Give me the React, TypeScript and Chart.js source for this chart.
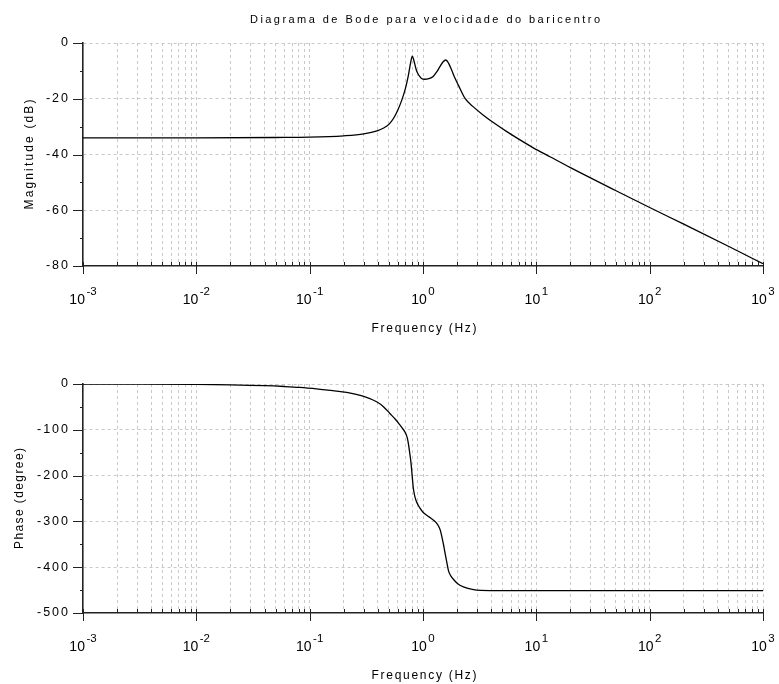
import React, { useEffect, useRef } from 'react';
import { Chart, registerables } from 'chart.js';

Chart.register(...registerables);

// ---- text ----
const chartTitle = 'Diagrama de Bode para velocidade do baricentro';
const xAxisTitle = 'Frequency (Hz)';
const magAxisTitle = 'Magnitude (dB)';
const phaseAxisTitle = 'Phase (degree)';

// ---- axes ----
const decadeExponents = [-3, -2, -1, 0, 1, 2, 3];
const minorMantissas = [2, 3, 4, 5, 6, 7, 8, 9];
const magRange = [-80, 0];
const magStep = 20;
const magMinorStep = 10;
const phaseRange = [-500, 0];
const phaseStep = 100;
const phaseMinorStep = 50;

// ---- data: magnitude ----
const magFreq = [
  0.001, 0.01, 0.05, 0.1, 0.2, 0.3, 0.4, 0.45, 0.5, 0.55, 0.6, 0.65, 0.7, 0.74, 0.78,
  0.805, 0.83, 0.87, 0.91, 0.97, 1.04, 1.12, 1.23, 1.33, 1.41, 1.5, 1.59, 1.68, 1.79,
  1.9, 2.05, 2.35, 2.8, 3.41, 4.3, 5.49, 7, 9.4, 13.2, 20, 50, 100, 200, 500, 1000,
];
const magDb = [
  -34, -34, -33.9, -33.8, -33.3, -32.6, -31.4, -30.5, -29.2, -27, -24, -20.5, -16.3, -12, -6.8,
  -4.7, -6.2, -9.5, -11.3, -12.7, -13, -12.8, -12, -10.2, -8.5, -6.8, -6.1, -7.2, -9.7,
  -12.3, -15.1, -19.9, -23.0, -25.9, -28.9, -31.8, -34.5, -37.6, -40.8, -44.7, -52.9, -59, -65, -73, -79.2,
];

// ---- data: phase ----
const phaseFreq = [
  0.001, 0.003, 0.01, 0.02, 0.04, 0.06, 0.082, 0.124, 0.16, 0.212, 0.3, 0.39, 0.45, 0.51,
  0.57, 0.628, 0.67, 0.69, 0.71, 0.73, 0.745, 0.76, 0.78, 0.795, 0.81, 0.82, 0.835, 0.85,
  0.87, 0.9, 0.94, 1.0, 1.1, 1.19, 1.3, 1.37, 1.42, 1.46, 1.52, 1.57, 1.63, 1.68, 1.76, 1.85,
  2.0, 2.27, 2.79, 3.91, 10, 100, 1000,
];
const phaseDeg = [
  -0.1, -0.3, -0.9, -1.8, -3.6, -5.5, -7.5, -11.6, -14.5, -18.2, -27, -38.8, -50, -64.3,
  -77, -90, -99, -104, -110, -120, -132, -147, -168, -189, -212, -226, -238, -247,
  -255, -263, -271, -280, -288, -294, -302, -310, -319, -331, -352, -371, -392, -408, -419, -426,
  -435, -443, -449, -451, -451, -451, -451,
];

const FONT = '"Liberation Sans", Arial, sans-serif';
const GRID = '#c9c9c9';
const AXIS = '#222';
const TEXT = '#000';

const xTickValues: number[] = [];
decadeExponents.forEach((e) => {
  xTickValues.push(10 ** e);
  if (e < decadeExponents[decadeExponents.length - 1]) {
    minorMantissas.forEach((m) => xTickValues.push(Number((m * 10 ** e).toPrecision(3))));
  }
});

function drawSpaced(ctx: CanvasRenderingContext2D, text: string, x: number, y: number, font: string, width: number) {
  ctx.font = font;
  (ctx as any).letterSpacing = '0px';
  const w = ctx.measureText(text).width;
  const sp = (width - w) / (text.length - 1);
  (ctx as any).letterSpacing = sp + 'px';
  ctx.textAlign = 'left';
  ctx.fillText(text, x - width / 2, y);
  (ctx as any).letterSpacing = '0px';
}

type DecorOpts = {
  title?: string;
  yTitle: string;
  yTitleX: number;
  yTitleWidth: number;
  yMinorStep: number;
};

function makeDecor(o: DecorOpts) {
  return {
    id: 'decor',
    beforeDraw(chart: any) {
      const ctx = chart.ctx as CanvasRenderingContext2D;
      ctx.fillStyle = '#fff';
      ctx.fillRect(0, 0, chart.width, chart.height);
      (ctx as any).letterSpacing = '2px';
    },
    afterDraw(chart: any) {
      const ctx = chart.ctx as CanvasRenderingContext2D;
      const xs = chart.scales.x;
      const ys = chart.scales.y;
      const area = chart.chartArea;
      const axisY = Math.round(area.bottom);
      const axisX = Math.round(area.left);
      ctx.save();
      (ctx as any).letterSpacing = '0px';
      ctx.strokeStyle = AXIS;
      ctx.lineWidth = 1;
      ctx.setLineDash([]);
      // x tick marks
      xTickValues.forEach((v) => {
        const px = Math.round(xs.getPixelForValue(v)) + 0.5;
        const major = Math.abs(Math.log10(v) - Math.round(Math.log10(v))) < 1e-9;
        ctx.beginPath();
        ctx.moveTo(px, axisY - 4);
        ctx.lineTo(px, axisY + (major ? 8 : 0));
        ctx.stroke();
      });
      // y tick marks
      const [ymin, ymax] = [ys.min, ys.max];
      for (let v = ymax; v >= ymin - 1e-9; v -= o.yMinorStep) {
        const py = Math.round(ys.getPixelForValue(v)) + 0.5;
        const major = Math.abs(v % (o.yMinorStep * 2)) < 1e-9;
        ctx.beginPath();
        ctx.moveTo(axisX - (major ? 10 : 3), py);
        ctx.lineTo(axisX, py);
        ctx.stroke();
      }
      // x tick labels 10^n
      ctx.fillStyle = TEXT;
      ctx.textBaseline = 'alphabetic';
      ctx.textAlign = 'left';
      decadeExponents.forEach((e) => {
        const px = xs.getPixelForValue(10 ** e);
        ctx.font = '14px ' + FONT;
        const w1 = ctx.measureText('10').width;
        ctx.font = '11.5px ' + FONT;
        const sup = String(e);
        const w2 = ctx.measureText(sup).width;
        const start = px - (w1 + w2 + 1.5) / 2;
        ctx.font = '14px ' + FONT;
        ctx.fillText('10', start, axisY + 38);
        ctx.font = '11.5px ' + FONT;
        ctx.fillText(sup, start + w1 + 1.5, axisY + 29);
      });
      // x axis title
      const cx = (area.left + area.right) / 2 + 1;
      drawSpaced(ctx, xAxisTitle, cx, axisY + 66, '12px ' + FONT, 105);
      // y axis title
      ctx.save();
      ctx.translate(o.yTitleX, (area.top + area.bottom) / 2);
      ctx.rotate(-Math.PI / 2);
      drawSpaced(ctx, o.yTitle, 0, 0, '12px ' + FONT, o.yTitleWidth);
      ctx.restore();
      // main title
      if (o.title) {
        drawSpaced(ctx, o.title, cx + 1, 22.5, '11px ' + FONT, 350);
      }
      ctx.restore();
    },
  };
}

function makeConfig(freq: number[], vals: number[], range: number[], step: number, pad: any, decor: any) {
  return {
    type: 'line',
    data: {
      datasets: [
        {
          data: freq.map((f, i) => ({ x: f, y: vals[i] })),
          borderColor: '#000',
          borderWidth: 1.3,
          pointRadius: 0,
          fill: false,
          cubicInterpolationMode: 'monotone',
        },
      ],
    },
    options: {
      animation: false,
      responsive: false,
      maintainAspectRatio: false,
      layout: { padding: pad },
      plugins: { legend: { display: false }, tooltip: { enabled: false }, title: { display: false } },
      scales: {
        x: {
          type: 'logarithmic',
          min: 10 ** decadeExponents[0],
          max: 10 ** decadeExponents[decadeExponents.length - 1],
          afterBuildTicks: (s: any) => {
            s.ticks = xTickValues.map((v) => ({ value: v }));
          },
          afterFit: (s: any) => {
            s.height = 0;
          },
          ticks: { display: false, autoSkip: false },
          grid: {
            drawTicks: false,
            lineWidth: 1,
            color: (c: any) => (c.index === 0 ? 'rgba(0,0,0,0)' : GRID),
          },
          border: { display: true, color: AXIS, width: 1.6, dash: [3, 3] },
        },
        y: {
          type: 'linear',
          min: range[0],
          max: range[1],
          afterFit: (s: any) => {
            s.width = 83;
          },
          ticks: {
            stepSize: step,
            padding: 13,
            color: TEXT,
            font: { family: FONT, size: 12.5 },
          },
          grid: {
            drawTicks: false,
            lineWidth: 1,
            color: (c: any) => (c.tick && c.tick.value === range[0] ? 'rgba(0,0,0,0)' : GRID),
          },
          border: { display: true, color: AXIS, width: 1.6, dash: [3, 3] },
        },
      },
    },
    plugins: [decor],
  } as any;
}

export default function App() {
  const topRef = useRef<HTMLCanvasElement>(null);
  const botRef = useRef<HTMLCanvasElement>(null);

  useEffect(() => {
    const top = new Chart(
      topRef.current as HTMLCanvasElement,
      makeConfig(
        magFreq,
        magDb,
        magRange,
        magStep,
        { top: 43, left: 0, right: 16, bottom: 76 },
        makeDecor({ title: chartTitle, yTitle: magAxisTitle, yTitleX: 33, yTitleWidth: 110, yMinorStep: magMinorStep })
      )
    );
    const bot = new Chart(
      botRef.current as HTMLCanvasElement,
      makeConfig(
        phaseFreq,
        phaseDeg,
        phaseRange,
        phaseStep,
        { top: 42, left: 0, right: 16, bottom: 71 },
        makeDecor({ yTitle: phaseAxisTitle, yTitleX: 22.5, yTitleWidth: 101, yMinorStep: phaseMinorStep })
      )
    );
    return () => {
      top.destroy();
      bot.destroy();
    };
  }, []);

  return (
    <div style={{ position: 'absolute', left: 0, top: 0, width: 779, height: 684, background: '#fff', overflow: 'hidden' }}>
      <canvas ref={topRef} width={779} height={342} style={{ position: 'absolute', left: 0, top: 0, display: 'block' }} />
      <canvas ref={botRef} width={779} height={342} style={{ position: 'absolute', left: 0, top: 342, display: 'block' }} />
    </div>
  );
}
